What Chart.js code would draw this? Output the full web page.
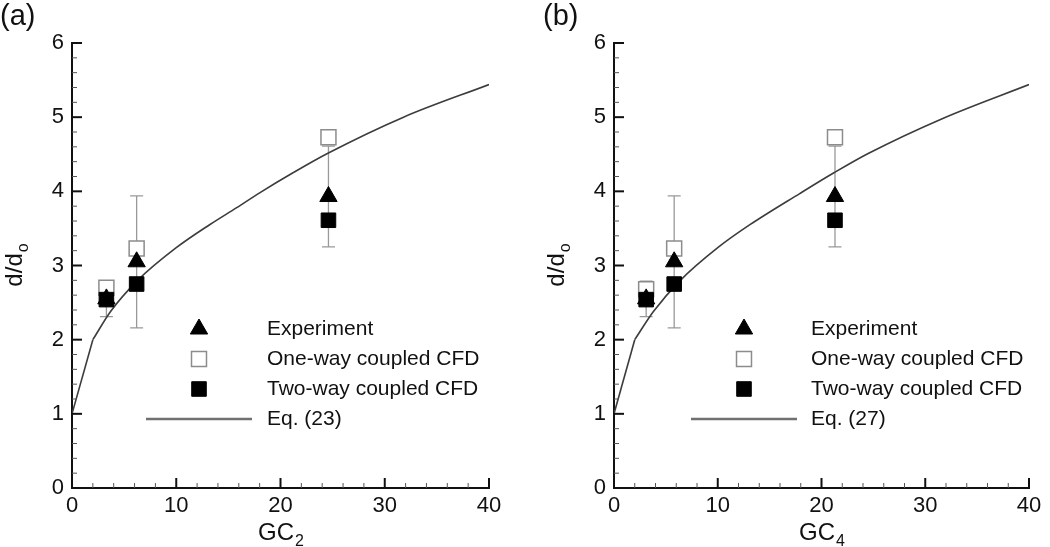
<!DOCTYPE html>
<html>
<head>
<meta charset="utf-8">
<script src="https://cdn.jsdelivr.net/npm/chart.js@4.4.1/dist/chart.umd.min.js"></script>
<style>
    body { margin: 0; background: #fff; }
    #wrap { position: relative; width: 1050px; height: 547px; }
    canvas { position: absolute; top: 0; }
</style>
</head>
<body>
<div id="wrap">
    <canvas id="chartA" width="525" height="547" style="left:0"></canvas>
    <canvas id="chartB" width="525" height="547" style="left:525px"></canvas>
</div>
<script>
// values
const gcA = [3.3, 6.2, 24.6];
const gcB = [3.1, 5.8, 21.3];
const experiment = [2.55, 3.05, 3.93];
const experimentLow = [2.31, 2.16, 3.25];
const experimentHigh = [2.79, 3.94, 4.61];
const oneWayA = [2.70, 3.23, 4.73];
const oneWayB = [2.68, 3.23, 4.73];
const twoWay = [2.54, 2.75, 3.61];

// Eq. (23) curve, panel (a) : straight part up to the kink, then the smooth part
const eqA_x = [0, 2, 3.7, 6.3, 10, 13.2, 15.8, 18, 21.2, 24.5, 31.8, 40];
const eqA_y = [1.0, 2.0, 2.38, 2.8, 3.24, 3.55, 3.78, 3.98, 4.25, 4.51, 5.0, 5.44];
// Eq. (27) curve, panel (b)
const eqB_x = [0, 2, 3.8, 6.4, 10, 13.1, 17.9, 21.2, 24.5, 31.8, 40];
const eqB_y = [1.0, 2.0, 2.38, 2.8, 3.24, 3.55, 3.97, 4.25, 4.51, 4.99, 5.44];

const xTicks = [0, 10, 20, 30, 40];
const yTicks = [0, 1, 2, 3, 4, 5, 6];

const FONT = "'Liberation Sans', Arial, sans-serif";

function pts(xs, ys) {
    return xs.map((x, i) => ({ x: x, y: ys[i] }));
}

// error bars, inward ticks, legend, labels
const panelDeco = {
    id: 'panelDeco',
    beforeDatasetsDraw(chart, args, opts) {
        const ctx = chart.ctx;
        const xs = chart.scales.x, ys = chart.scales.y;
        ctx.save();
        ctx.strokeStyle = '#999';
        ctx.lineWidth = 1.3;
        opts.errX.forEach((gc, i) => {
            const px = xs.getPixelForValue(gc);
            const lo = ys.getPixelForValue(experimentLow[i]);
            const hi = ys.getPixelForValue(experimentHigh[i]);
            ctx.beginPath();
            ctx.moveTo(px, lo); ctx.lineTo(px, hi);
            ctx.moveTo(px - 6.5, lo); ctx.lineTo(px + 6.5, lo);
            ctx.moveTo(px - 6.5, hi); ctx.lineTo(px + 6.5, hi);
            ctx.stroke();
        });
        ctx.restore();
    },
    afterDraw(chart, args, opts) {
        const ctx = chart.ctx;
        const xs = chart.scales.x, ys = chart.scales.y;
        const area = chart.chartArea;
        ctx.save();

        // inward tick marks (major + minor)
        for (let v = 0; v <= 40.001; v += 2) {
            const px = xs.getPixelForValue(v);
            const major = Math.abs(v % 10) < 0.01;
            ctx.strokeStyle = major ? '#111' : '#555';
            ctx.lineWidth = major ? 2 : 1;
            ctx.beginPath();
            ctx.moveTo(px, area.bottom);
            ctx.lineTo(px, area.bottom - (major ? 10 : 5));
            ctx.stroke();
        }
        for (let k = 0; k <= 30; k++) {
            const v = k * 0.2;
            const py = ys.getPixelForValue(v);
            const major = k % 5 === 0;
            ctx.strokeStyle = major ? '#111' : '#555';
            ctx.lineWidth = major ? 2 : 1;
            ctx.beginPath();
            ctx.moveTo(area.left, py);
            ctx.lineTo(area.left + (major ? 10 : 5), py);
            ctx.stroke();
        }

        // legend
        const lg = opts.legend;
        const mx = area.left + lg.marker;
        const tx = area.left + lg.text;
        ctx.fillStyle = '#000'; ctx.strokeStyle = '#000'; ctx.lineWidth = 1;
        Chart.helpers.drawPoint(ctx, { pointStyle: 'triangle', radius: 10, borderWidth: 1, rotation: 0 }, mx, lg.rows[0]);
        ctx.fillStyle = '#fff'; ctx.strokeStyle = '#8c8c8c'; ctx.lineWidth = 1.5;
        Chart.helpers.drawPoint(ctx, { pointStyle: 'rect', radius: 10.6, borderWidth: 1.5, rotation: 0 }, mx, lg.rows[1]);
        ctx.fillStyle = '#000'; ctx.strokeStyle = '#000'; ctx.lineWidth = 1;
        Chart.helpers.drawPoint(ctx, { pointStyle: 'rect', radius: 10.3, borderWidth: 1, rotation: 0 }, mx, lg.rows[2]);
        ctx.strokeStyle = '#707070';
        ctx.lineWidth = 2.5;
        ctx.beginPath();
        ctx.moveTo(area.left + lg.lineFrom, lg.rows[3]);
        ctx.lineTo(area.left + lg.lineTo, lg.rows[3]);
        ctx.stroke();

        ctx.fillStyle = '#111';
        ctx.font = '21px ' + FONT;
        ctx.textAlign = 'left';
        ctx.textBaseline = 'middle';
        ctx.fillText('Experiment', tx, lg.rows[0]);
        ctx.fillText('One-way coupled CFD', tx, lg.rows[1]);
        ctx.fillText('Two-way coupled CFD', tx, lg.rows[2]);
        ctx.fillText(opts.eqLabel, tx, lg.rows[3]);

        // panel label
        ctx.font = '29px ' + FONT;
        ctx.textBaseline = 'middle';
        ctx.fillText(opts.label, opts.labelX, 17);

        // x axis title with subscript
        const cx = (area.left + area.right) / 2;
        ctx.font = '24px ' + FONT;
        const wGC = ctx.measureText('GC').width;
        ctx.font = '16px ' + FONT;
        const wSub = ctx.measureText(opts.sub).width;
        const startX = cx - (wGC + wSub) / 2;
        ctx.font = '24px ' + FONT;
        ctx.textBaseline = 'alphabetic';
        ctx.fillText('GC', startX, 540);
        ctx.font = '16px ' + FONT;
        ctx.fillText(opts.sub, startX + wGC + 1, 546);

        // y axis title d/d_o
        ctx.translate(opts.yTitleX, (area.top + area.bottom) / 2);
        ctx.rotate(-Math.PI / 2);
        ctx.font = '24px ' + FONT;
        const wD = ctx.measureText('d/d').width;
        ctx.font = '16px ' + FONT;
        const wO = ctx.measureText('o').width;
        const sx = -(wD + wO) / 2;
        ctx.font = '24px ' + FONT;
        ctx.fillText('d/d', sx, 0);
        ctx.font = '16px ' + FONT;
        ctx.fillText('o', sx + wD + 1, 6);

        ctx.restore();
    }
};

function makePanel(canvasId, gc, oneWay, eqX, eqY, leftW, rightPad, deco) {
    const curve = pts(eqX, eqY);
    const lineStyle = {
        showLine: true,
        pointRadius: 0,
        borderColor: '#3c3c3c',
        borderWidth: 1.6,
        order: 3
    };
    return new Chart(document.getElementById(canvasId), {
        type: 'scatter',
        data: {
            datasets: [{
                label: 'Two-way coupled CFD',
                data: pts(gc, twoWay),
                pointStyle: 'rect',
                pointRadius: 10.3,
                backgroundColor: '#000',
                borderColor: '#000',
                borderWidth: 1,
                order: 0
            }, {
                label: 'Experiment',
                data: pts(gc, experiment),
                pointStyle: 'triangle',
                pointRadius: 10,
                backgroundColor: '#000',
                borderColor: '#000',
                borderWidth: 1,
                order: 1
            }, {
                label: 'One-way coupled CFD',
                data: pts(gc, oneWay),
                pointStyle: 'rect',
                pointRadius: 10.6,
                backgroundColor: '#fff',
                borderColor: '#8c8c8c',
                borderWidth: 1.5,
                order: 2
            }, Object.assign({
                label: deco.eqLabel,
                data: curve.slice(0, 2)
            }, lineStyle), Object.assign({
                label: deco.eqLabel,
                data: curve.slice(1),
                cubicInterpolationMode: 'monotone'
            }, lineStyle)]
        },
        options: {
            responsive: false,
            animation: false,
            events: [],
            layout: { padding: { top: 43, right: rightPad, bottom: 0, left: 0 } },
            plugins: {
                legend: { display: false },
                tooltip: { enabled: false },
                panelDeco: deco
            },
            scales: {
                x: {
                    type: 'linear',
                    min: 0, max: 40,
                    afterBuildTicks: s => { s.ticks = xTicks.map(v => ({ value: v })); },
                    afterFit: s => { s.height = 59; },
                    grid: { display: false, drawTicks: false },
                    border: { display: true, color: '#111', width: 2 },
                    ticks: { color: '#111', font: { family: FONT, size: 22 }, padding: 5, maxRotation: 0 }
                },
                y: {
                    type: 'linear',
                    min: 0, max: 6,
                    afterBuildTicks: s => { s.ticks = yTicks.map(v => ({ value: v })); },
                    afterFit: s => { s.width = leftW; },
                    grid: { display: false, drawTicks: false },
                    border: { display: true, color: '#111', width: 2 },
                    ticks: { color: '#111', font: { family: FONT, size: 22 }, padding: 8 }
                }
            }
        },
        plugins: [panelDeco]
    });
}

makePanel('chartA', gcA, oneWayA, eqA_x, eqA_y, 72, 36, {
    label: '(a)', labelX: 0, eqLabel: 'Eq. (23)', sub: '2', yTitleX: 22,
    errX: gcA,
    legend: { marker: 127, text: 195, lineFrom: 74, lineTo: 180, rows: [329, 359, 389, 419] }
});
makePanel('chartB', gcB, oneWayB, eqB_x, eqB_y, 89, 21, {
    label: '(b)', labelX: 18, eqLabel: 'Eq. (27)', sub: '4', yTitleX: 39,
    errX: gcB,
    legend: { marker: 130, text: 197, lineFrom: 77, lineTo: 183, rows: [329, 359, 389, 419] }
});
</script>
</body>
</html>
